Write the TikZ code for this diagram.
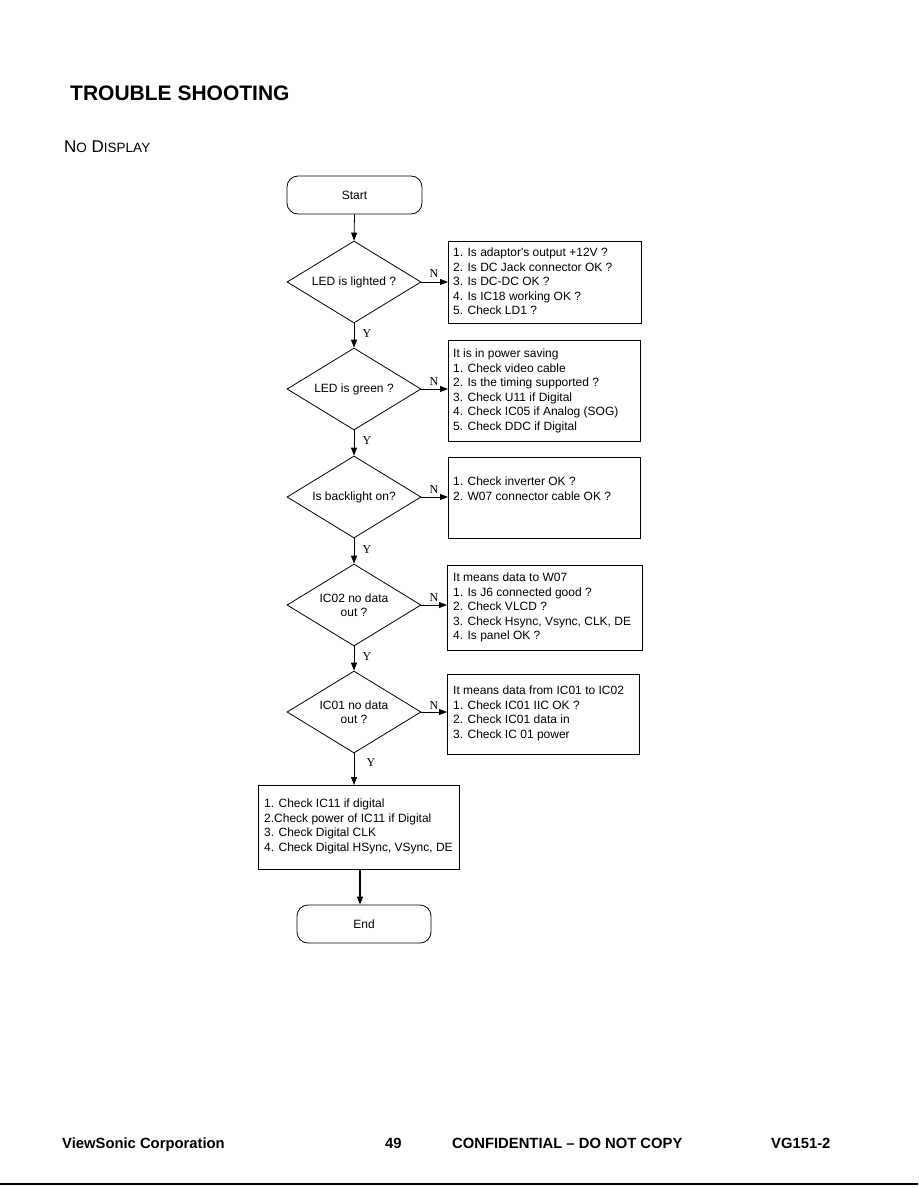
\documentclass[tikz,border=0pt]{standalone}
\usepackage{fontspec}
\setmainfont{Liberation Sans}
\newfontfamily\serifY{Liberation Serif}
\usetikzlibrary{shapes.geometric,arrows.meta}
\begin{document}
\begin{tikzpicture}[x=1pt,y=-1pt,
 every node/.style={inner sep=0pt},
 dec/.style={diamond,draw,line width=0.8pt,minimum width=134pt,minimum height=82pt},
 term/.style={draw,rounded corners=11pt,line width=0.8pt,minimum width=135pt,minimum height=38pt},
 infobox/.style={draw,line width=0.8pt,anchor=north west},
 info/.style={anchor=north west,align=left,font=\fontsize{12}{14.5}\selectfont},
 dtext/.style={align=center,font=\fontsize{12}{14.5}\selectfont},
 lab/.style={font=\serifY\fontsize{12}{12}\selectfont},
 arr/.style={-{Triangle[length=8pt,width=6pt]},line width=0.8pt},
 foot/.style={anchor=base west,font=\bfseries\fontsize{14.8}{15}\selectfont}
]
\useasboundingbox (0,0) rectangle (918,1188);

% headings
\node[anchor=base west,font=\bfseries\fontsize{21}{21}\selectfont] (title) at (70,101) {TROUBLE SHOOTING};
\node[anchor=base west,font=\fontsize{17}{17}\selectfont] (sub) at (64,152) {N{\fontsize{13.5}{14}\selectfont O} D{\fontsize{13.5}{14}\selectfont ISPLAY}};

% terminals
\node[term] (start) at (354.5,195) {};
\node[dtext] (starttxt) at (start) {Start};

% decisions
\node[dec] (d1) at (354,282) {};
\node[dtext] (t1) at (d1) {LED is lighted ?};
\node[dec] (d2) at (354,389) {};
\node[dtext] (t2) at (d2) {LED is green ?};
\node[dec] (d3) at (354,497) {};
\node[dtext] (t3) at (d3) {Is backlight on?};
\node[dec] (d4) at (354,605) {};
\node[dtext] (t4) at (d4) {IC02 no data\\out ?};
\node[dec] (d5) at (354,712) {};
\node[dtext] (t5) at (d5) {IC01 no data\\out ?};

% info boxes
\node[infobox,minimum width=193pt,minimum height=82pt] (b1) at (448,241) {};
\node[info] (i1) at (453,248) {1. Is adaptor\textquotesingle s output +12V ?\\2. Is DC Jack connector OK ?\\3. Is DC-DC OK ?\\4. Is IC18 working OK ?\\5. Check LD1 ?};
\node[infobox,minimum width=192pt,minimum height=101pt] (b2) at (448,340) {};
\node[info] (i2) at (453,349) {It is in power saving\\1. Check video cable\\2. Is the timing supported ?\\3. Check U11 if Digital\\4. Check IC05 if Analog (SOG)\\5. Check DDC if Digital};
\node[infobox,minimum width=192pt,minimum height=81pt] (b3) at (448,457) {};
\node[info] (i3) at (453,477) {1. Check inverter OK ?\\2. W07 connector cable OK ?};
\node[infobox,minimum width=195pt,minimum height=85pt] (b4) at (447,565) {};
\node[info] (i4) at (453,573) {It means data to W07\\1. Is J6 connected good ?\\2. Check VLCD ?\\3. Check Hsync, Vsync, CLK, DE\\4. Is panel OK ?};
\node[infobox,minimum width=192pt,minimum height=80pt] (b5) at (447,674) {};
\node[info] (i5) at (453,686) {It means data from IC01 to IC02\\1. Check IC01 IIC OK ?\\2. Check IC01 data in\\3. Check IC 01 power};

\node[infobox,minimum width=201pt,minimum height=84pt] (b6) at (258,785) {};
\node[info] (i6) at (264,799) {1. Check IC11 if digital\\2.Check power of IC11 if Digital\\3. Check Digital CLK\\4. Check Digital HSync, VSync, DE};

\node[term,minimum width=134pt] (end) at (364,924) {};
\node[dtext] (endtxt) at (end) {End};

% connectors
\draw[arr] (start.south) -- (d1.north);
\draw[arr] (d1.south) -- (d2.north);
\draw[arr] (d2.south) -- (d3.north);
\draw[arr] (d3.south) -- (d4.north);
\draw[arr] (d4.south) -- (d5.north);
\draw[arr] (d5.south) -- (d5.south |- b6.north);
\draw[arr,line width=1.5pt] (360,869) coordinate (bb) -- (bb |- end.north);

\draw[arr] (d1.east) -- (d1.east -| b1.west);
\draw[arr] (d2.east) -- (d2.east -| b2.west);
\draw[arr] (d3.east) -- (d3.east -| b3.west);
\draw[arr] (d4.east) -- (d4.east -| b4.west);
\draw[arr] (d5.east) -- (d5.east -| b5.west);

% labels
\foreach \yy [count=\k] in {274,382,490,598,706} {\node[lab] (n\k) at (434,\yy) {N};}
\node[lab] (y1) at (367,334) {Y};
\node[lab] (y2) at (367,441) {Y};
\node[lab] (y3) at (367,550) {Y};
\node[lab] (y4) at (367,657) {Y};
\node[lab] (y5) at (371,763) {Y};

% footer
\node[foot] (f1) at (62,1148) {ViewSonic Corporation};
\node[foot] (f2) at (385,1148) {49};
\node[foot] (f3) at (452,1148) {CONFIDENTIAL -- DO NOT COPY};
\node[foot] (f4) at (771,1148) {VG151-2};
\draw[line width=2pt] (0,1184) coordinate (la) -- (918,1184) coordinate (lb);
\end{tikzpicture}
\end{document}
